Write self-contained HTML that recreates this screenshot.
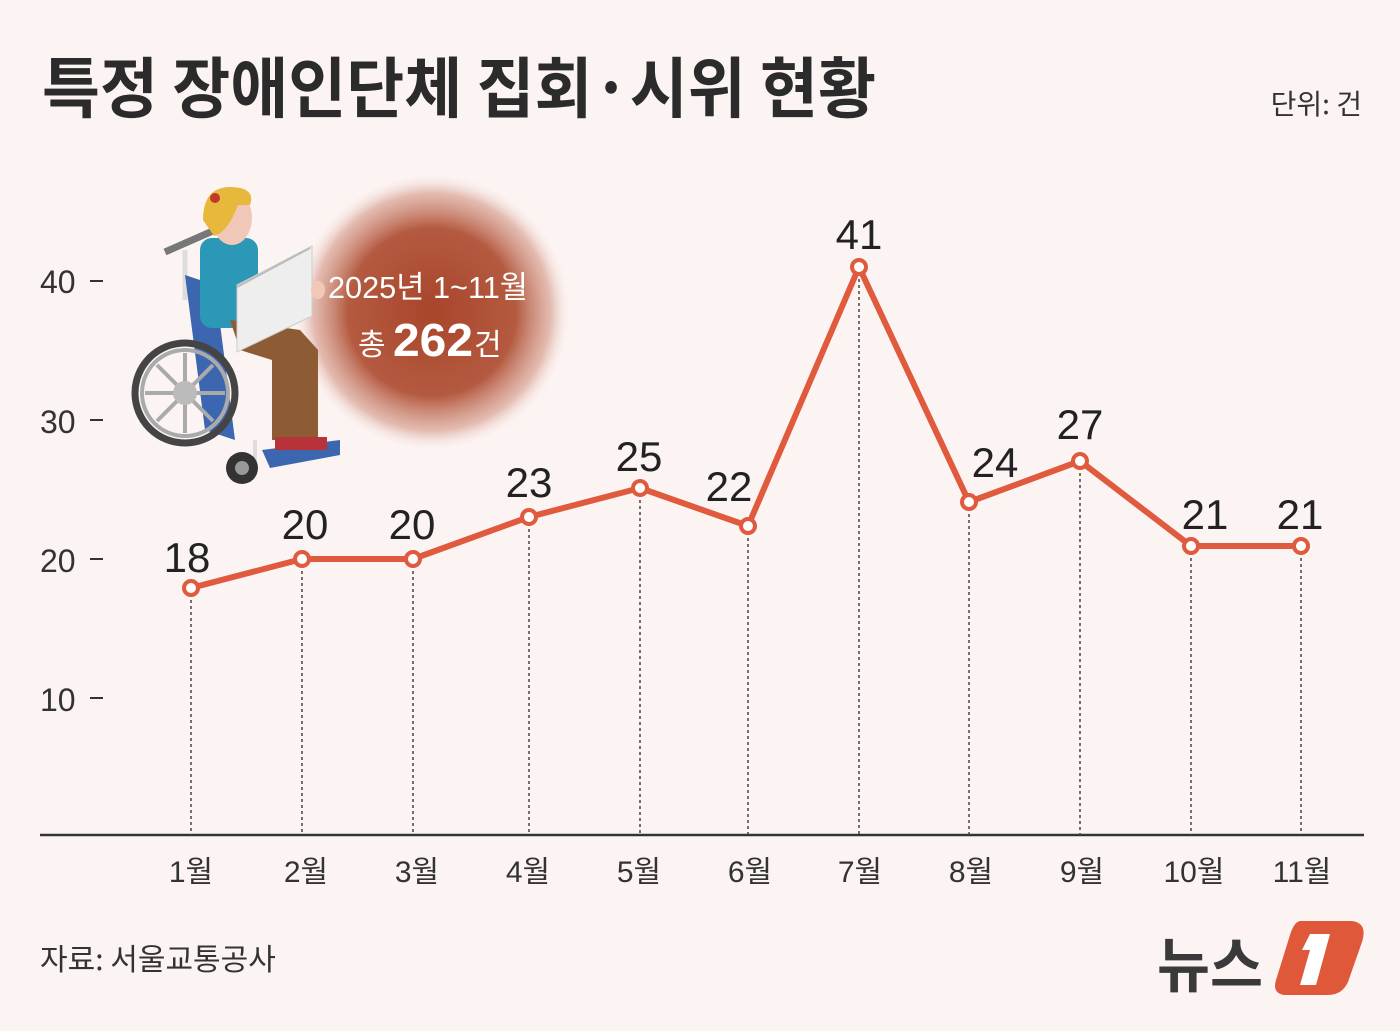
<!DOCTYPE html>
<html><head><meta charset="utf-8"><style>
html,body{margin:0;padding:0;background:#fcf4f3;}
svg{display:block;font-family:"Liberation Sans","Noto Sans CJK KR",sans-serif;}
</style></head><body>
<svg width="1400" height="1031" viewBox="0 0 1400 1031" xmlns="http://www.w3.org/2000/svg">
<defs>
<radialGradient id="bub" cx="50%" cy="50%" r="50%">
<stop offset="0" stop-color="#a8452b"/>
<stop offset="0.6" stop-color="#b45a40"/>
<stop offset="0.85" stop-color="#d9a394" stop-opacity="0.7"/>
<stop offset="1" stop-color="#fcf4f3" stop-opacity="0"/>
</radialGradient>
</defs>
<rect width="1400" height="1031" fill="#fcf4f3"/>
<text x="42" y="112" font-size="66" font-weight="bold" fill="#2b2b2b" textLength="834" lengthAdjust="spacingAndGlyphs" font-family="'Noto Sans CJK KR',sans-serif">특정 장애인단체 집회·시위 현황</text>
<text x="1362" y="114" font-size="28" fill="#333" text-anchor="end" font-family="'Noto Sans CJK KR',sans-serif">단위: 건</text>

<circle cx="432" cy="312" r="140" fill="url(#bub)"/>
<text x="428" y="298" font-size="31" fill="#fff" text-anchor="middle" textLength="200" lengthAdjust="spacingAndGlyphs">2025년 1~11월</text>
<text x="358" y="355" font-size="30" fill="#fff">총</text>
<text x="393" y="356" font-size="46" font-weight="bold" fill="#fff" textLength="80" lengthAdjust="spacingAndGlyphs">262</text>
<text x="474" y="355" font-size="30" fill="#fff">건</text>

<g>
<line x1="165" y1="252" x2="215" y2="230" stroke="#777" stroke-width="7"/>
<line x1="185" y1="250" x2="185" y2="300" stroke="#ddd" stroke-width="5"/>
<polygon points="185,275 215,285 235,440 205,430" fill="#3d66b0"/>
<rect x="200" y="238" width="58" height="90" fill="#2b98b8" rx="12"/>
<polygon points="230,320 300,330 318,350 318,440 272,440 272,360 240,350" fill="#8d5c35"/>
<polygon points="262,450 340,440 340,455 270,468" fill="#3d66b0"/>
<rect x="275" y="437" width="52" height="13" fill="#b8323a"/>
<line x1="255" y1="440" x2="255" y2="475" stroke="#ddd" stroke-width="4"/>
<circle cx="185" cy="393" r="50" fill="none" stroke="#444" stroke-width="7"/>
<circle cx="185" cy="393" r="43" fill="none" stroke="#aaa" stroke-width="4"/>
<g stroke="#aaa" stroke-width="4">
<line x1="145" y1="393" x2="225" y2="393"/><line x1="185" y1="353" x2="185" y2="433"/>
<line x1="157" y1="365" x2="213" y2="421"/><line x1="213" y1="365" x2="157" y2="421"/>
</g>
<circle cx="185" cy="393" r="12" fill="#bbb"/>
<circle cx="242" cy="468" r="16" fill="#333"/><circle cx="242" cy="468" r="7" fill="#999"/>
<polygon points="237,285 312,246 312,316 237,352" fill="#eee" stroke="#ccc"/>
<line x1="237" y1="287" x2="310" y2="248" stroke="#bbb" stroke-width="2"/>
<ellipse cx="232" cy="218" rx="20" ry="27" fill="#f1c8b8"/>
<path d="M203 220 Q203 186 232 187 Q256 188 250 205 L238 205 Q228 232 214 236 Z" fill="#e8b83d"/>
<circle cx="215" cy="198" r="5" fill="#c0392b"/>
<ellipse cx="318" cy="290" rx="7" ry="9" fill="#f1c8b8"/>
</g>

<g font-size="32" fill="#333" font-family="'Liberation Sans Narrow','Liberation Sans',sans-serif">
<text x="40" y="293">40</text><text x="40" y="433">30</text><text x="40" y="572">20</text><text x="40" y="711">10</text>
</g>
<g stroke="#333" stroke-width="2">
<line x1="90" y1="281" x2="103" y2="281"/><line x1="90" y1="420" x2="103" y2="420"/><line x1="90" y1="559" x2="103" y2="559"/><line x1="90" y1="698" x2="103" y2="698"/>
</g>
<line x1="40" y1="835" x2="1364" y2="835" stroke="#333" stroke-width="2.5"/>

<g stroke="#444" stroke-width="1.5" stroke-dasharray="3,3">
<line x1="191" y1="588" x2="191" y2="835"/><line x1="302" y1="559" x2="302" y2="835"/><line x1="413" y1="559" x2="413" y2="835"/>
<line x1="529" y1="517" x2="529" y2="835"/><line x1="640" y1="488" x2="640" y2="835"/><line x1="748" y1="526" x2="748" y2="835"/>
<line x1="859" y1="267" x2="859" y2="835"/><line x1="969" y1="502" x2="969" y2="835"/><line x1="1080" y1="461" x2="1080" y2="835"/>
<line x1="1191" y1="546" x2="1191" y2="835"/><line x1="1301" y1="546" x2="1301" y2="835"/>
</g>

<polyline points="191,588 302,559 413,559 529,517 640,488 748,526 859,267 969,502 1080,461 1191,546 1301,546" fill="none" stroke="#e05a3e" stroke-width="6" stroke-linejoin="round"/>
<g fill="#fff" stroke="#e05a3e" stroke-width="4">
<circle cx="191" cy="588" r="7"/><circle cx="302" cy="559" r="7"/><circle cx="413" cy="559" r="7"/><circle cx="529" cy="517" r="7"/>
<circle cx="640" cy="488" r="7"/><circle cx="748" cy="526" r="7"/><circle cx="859" cy="267" r="7"/><circle cx="969" cy="502" r="7"/>
<circle cx="1080" cy="461" r="7"/><circle cx="1191" cy="546" r="7"/><circle cx="1301" cy="546" r="7"/>
</g>

<g font-size="42" fill="#222" text-anchor="middle" font-family="'Liberation Sans Narrow','Liberation Sans',sans-serif">
<text x="187" y="572">18</text><text x="305" y="539">20</text><text x="412" y="539">20</text><text x="529" y="497">23</text>
<text x="639" y="471">25</text><text x="729" y="501">22</text><text x="859" y="249">41</text><text x="995" y="477">24</text>
<text x="1080" y="439">27</text><text x="1205" y="529">21</text><text x="1300" y="529">21</text>
</g>

<g font-size="30" fill="#333" text-anchor="middle" font-family="'Liberation Sans Narrow','Liberation Sans','Noto Sans CJK KR',sans-serif">
<text x="191" y="882">1월</text><text x="306" y="882">2월</text><text x="417" y="882">3월</text><text x="528" y="882">4월</text>
<text x="639" y="882">5월</text><text x="750" y="882">6월</text><text x="860" y="882">7월</text><text x="971" y="882">8월</text>
<text x="1082" y="882">9월</text><text x="1194" y="882">10월</text><text x="1302" y="882">11월</text>
</g>

<text x="40" y="970" font-size="30" fill="#333" font-family="'Noto Sans CJK KR',sans-serif">자료: 서울교통공사</text>

<text x="1157" y="987" font-size="60" font-weight="bold" fill="#3a3a3a" font-family="'Noto Sans CJK KR',sans-serif" textLength="106" lengthAdjust="spacingAndGlyphs">뉴스</text>
<path d="M1300 921 L1352 921 Q1368 923 1362 942 L1348 982 Q1342 995 1328 995 L1284 995 Q1272 993 1276 980 L1290 935 Q1294 922 1300 921 Z" fill="#e0583a"/>
<path d="M1310 934 L1330 934 L1316 985 L1300 985 L1310 950 L1302 950 Z" fill="#fff"/>
</svg>
</body></html>
